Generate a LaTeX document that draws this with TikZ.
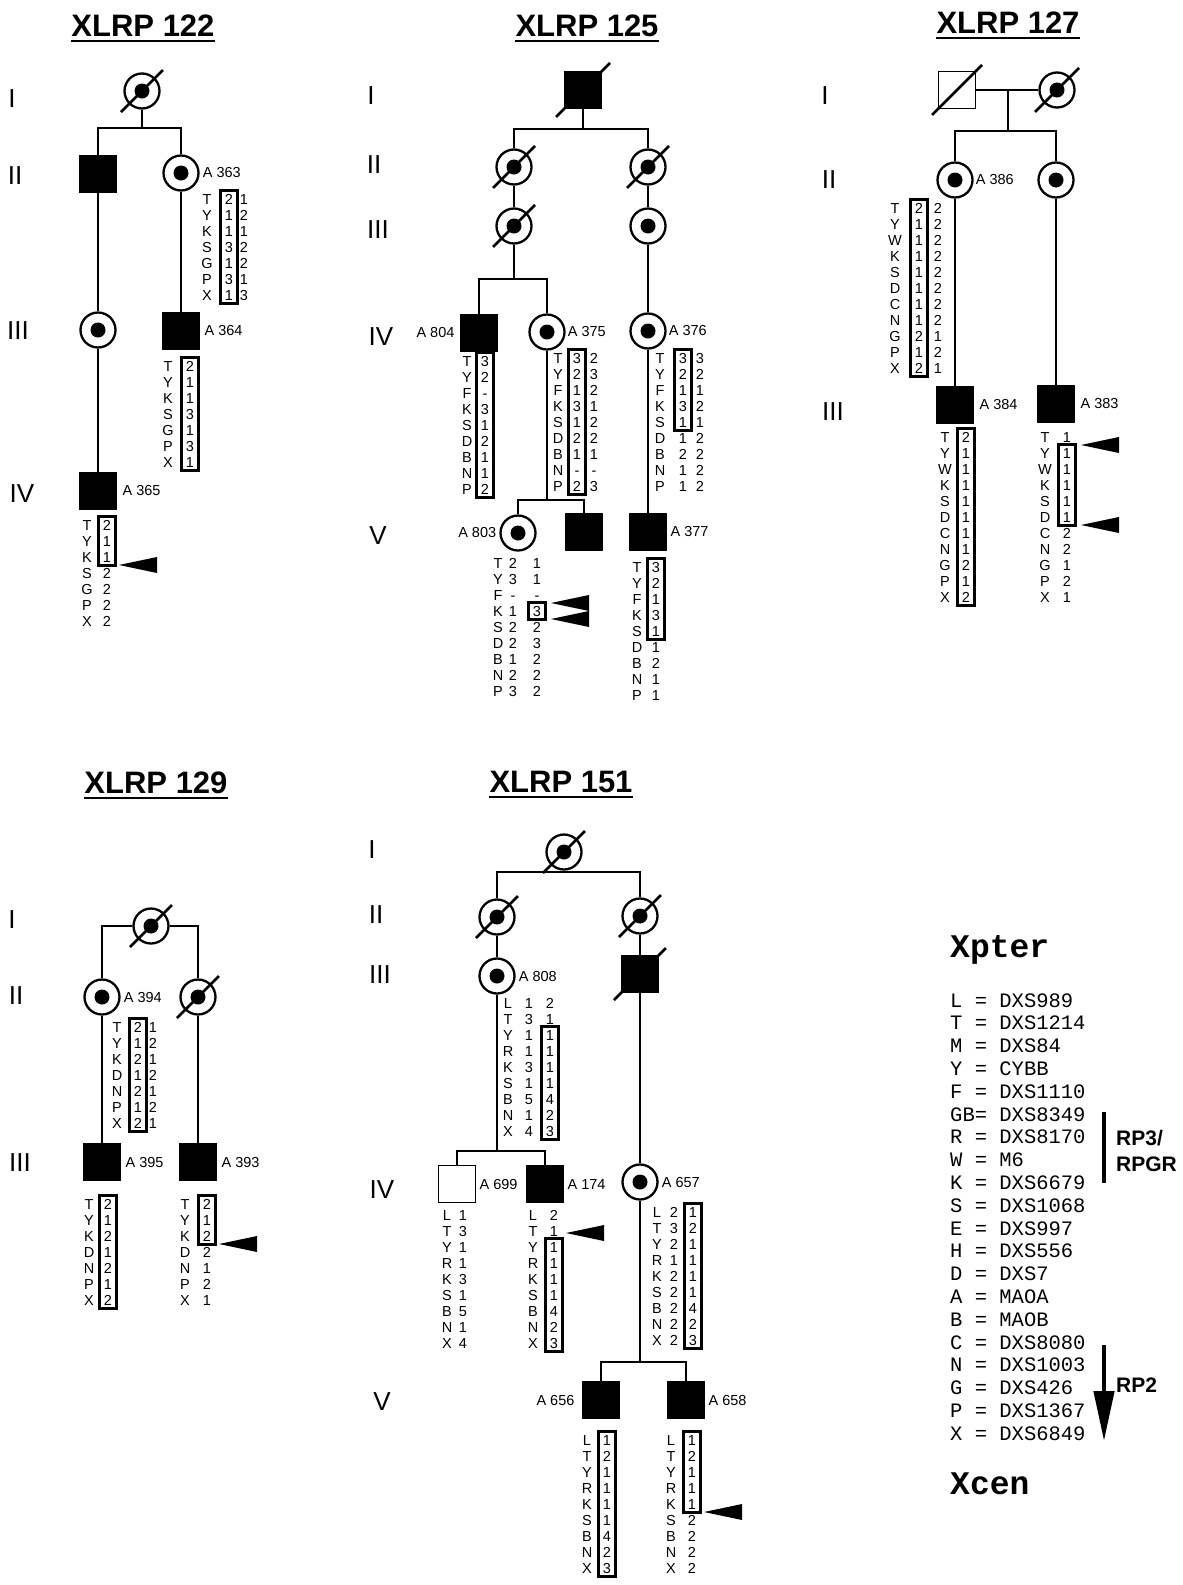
\documentclass[tikz,border=0pt]{standalone}
\usepackage{fontspec}
\setmainfont{Liberation Sans}
\newfontfamily\keymono{Liberation Mono}
\usetikzlibrary{arrows.meta}
\newcommand{\titlefont}{\fontsize{31}{36}\selectfont\bfseries}
\newcommand{\genfont}{\fontsize{26}{30}\selectfont}
\newcommand{\idfont}{\fontsize{14.5}{16}\selectfont}
\newcommand{\hapfont}{\fontsize{14.5}{16}\selectfont}
\newcommand{\keyfont}{\keymono\fontsize{20.5}{23}\selectfont}
\newcommand{\termfont}{\keymono\fontsize{33}{36}\selectfont\bfseries}
\newcommand{\genefont}{\fontsize{21}{24}\selectfont\bfseries}
\tikzset{
  male/.style={draw,rectangle,minimum size=37pt,inner sep=0pt,line width=1.8pt},
  affm/.style={male,fill=black},
  female/.style={draw,circle,minimum size=35pt,inner sep=0pt,line width=2.3pt},
  carrier/.style={female,path picture={\fill (path picture bounding box.center) circle (7.5pt);}},
  kin/.style={line width=2pt},
  deathmark/.style={line width=2.6pt},
  hapframe/.style={line width=2.2pt},
  hapitem/.style={inner sep=0pt,text height=10.4pt,text depth=0pt,font=\hapfont},
  idlabel/.style={inner sep=0pt,anchor=west,font=\idfont},
  gen/.style={inner sep=0pt,font=\genfont},
  titletext/.style={inner sep=0pt,anchor=base,font=\titlefont},
  keyline/.style={inner sep=0pt,anchor=base west,font=\keyfont},
  genename/.style={inner sep=0pt,anchor=base west,font=\genefont}
}
\newcommand{\hapcol}[4]{%
  \foreach \v [count=\i from 0] in {#3}
    \node[hapitem] (#4\i) at (#1,#2+\i*16) {\v};%
}
\newcommand{\hapbox}[4]{%
  \draw[hapframe] (#1-8.5,#2+#3*16-8.5) rectangle (#1+8.5,#2+#4*16+8.5);%
}
\newcommand{\breakmark}[2]{\fill (#1,#2) -- ++(38,-8) -- ++(0,16) -- cycle;}
\newcommand{\deadslash}[2]{%
  \draw[deathmark] ([shift={(-#2,#2)}]#1.center) -- ([shift={(#2,-#2)}]#1.center);}
\newcommand{\pedtitle}[4]{%
  \node[titletext] (#1) at (#2,#3) {#4};
  \draw[line width=2.6pt] ([yshift=-5pt]#1.base west) -- ([yshift=-5pt]#1.base east);}

\begin{document}
\begin{tikzpicture}[x=1pt,y=-1pt]
  \useasboundingbox (0,0) rectangle (1183,1585);

  \pedtitle{t122}{143}{36}{XLRP 122}
  \node[gen] (n122a) at (12,99) {I};
  \node[gen] (n122b) at (15,176) {II};
  \node[gen] (n122c) at (18,331) {III};
  \node[gen] (n122d) at (22,494) {IV};
  \node[carrier] (f1) at (142,91) {};
  \deadslash{f1}{21}
  \coordinate (s1) at (142,128);
  \node[affm] (f2) at (98,174) {};
  \node[carrier] (f3) at (181,173) {};
  \node[idlabel] (l363) at ([xshift=3pt]f3.east) {A 363};
  \node[carrier] (f4) at (98,330) {};
  \node[affm] (f5) at (181,331) {};
  \node[idlabel] (l364) at ([xshift=4pt]f5.east) {A 364};
  \node[affm] (f6) at (98,491) {};
  \node[idlabel] (l365) at ([xshift=5pt]f6.east) {A 365};
  \draw[kin] (f1) -- (s1);
  \draw[kin] (f2.north) |- (s1) -| (f3.north);
  \draw[kin] (f2) -- (f4);
  \draw[kin] (f4) -- (f6);
  \draw[kin] (f3) -- (f5);
  \hapcol{207}{199}{T,Y,K,S,G,P,X}{a}
  \hapcol{229}{199}{2,1,1,3,1,3,1}{b}
  \hapbox{229}{199}{0}{6}
  \hapcol{244}{199}{1,2,1,2,2,1,3}{c}
  \hapcol{168}{366}{T,Y,K,S,G,P,X}{d}
  \hapcol{190}{366}{2,1,1,3,1,3,1}{e}
  \hapbox{190}{366}{0}{6}
  \hapcol{87}{525}{T,Y,K,S,G,P,X}{f}
  \hapcol{107}{525}{2,1,1,2,2,2,2}{g}
  \hapbox{107}{525}{0}{2}
  \breakmark{119}{565}

  \pedtitle{t125}{587}{36}{XLRP 125}
  \node[gen] (n125a) at (371,96) {I};
  \node[gen] (n125b) at (374,165) {II};
  \node[gen] (n125c) at (378,230) {III};
  \node[gen] (n125d) at (381,337) {IV};
  \node[gen] (n125e) at (378,536) {V};
  \node[affm] (g1) at (583,90) {};
  \deadslash{g1}{27}
  \coordinate (s2) at (583,129);
  \node[carrier] (g2) at (514,167) {};
  \deadslash{g2}{21}
  \node[carrier] (g3) at (648,167) {};
  \deadslash{g3}{21}
  \node[carrier] (g4) at (514,226) {};
  \deadslash{g4}{21}
  \node[carrier] (g5) at (648,226) {};
  \draw[kin] (g1) -- (s2);
  \draw[kin] (g2.north) |- (s2) -| (g3.north);
  \draw[kin] (g2) -- (g4);
  \draw[kin] (g3) -- (g5);
  \coordinate (s3) at (514,279);
  \node[affm] (g6) at (479,333) {};
  \node[idlabel,anchor=east] (l804) at ([xshift=-5pt]g6.west) {A 804};
  \node[carrier] (g7) at (547,332) {};
  \node[idlabel] (l375) at ([xshift=2pt]g7.east) {A 375};
  \node[carrier] (g8) at (648,331) {};
  \node[idlabel] (l376) at ([xshift=2pt]g8.east) {A 376};
  \draw[kin] (g4) -- (s3);
  \draw[kin] (g6.north) |- (s3) -| (g7.north);
  \draw[kin] (g5) -- (g8);
  \coordinate (s4) at (547,500);
  \node[carrier] (g9) at (518,533) {};
  \node[idlabel,anchor=east] (l803) at ([xshift=-3pt]g9.west) {A 803};
  \node[affm] (g10) at (584,532) {};
  \node[affm] (g11) at (648,532) {};
  \node[idlabel] (l377) at ([xshift=3pt]g11.east) {A 377};
  \draw[kin] (g7) -- (s4);
  \draw[kin] (g9.north) |- (s4) -| (g10.north);
  \draw[kin] (g8) -- (g11);
  \hapcol{467}{361}{T,Y,F,K,S,D,B,N,P}{h}
  \hapcol{485}{361}{3,2,-,3,1,2,1,1,2}{i}
  \hapbox{485}{361}{0}{8}
  \hapcol{558}{358}{T,Y,F,K,S,D,B,N,P}{j}
  \hapcol{577}{358}{3,2,1,3,1,2,1,-,2}{k}
  \hapbox{577}{358}{0}{8}
  \hapcol{594}{358}{2,3,2,1,2,2,1,-,3}{m}
  \hapcol{660}{358}{T,Y,F,K,S,D,B,N,P}{o}
  \hapcol{683}{358}{3,2,1,3,1,1,2,1,1}{p}
  \hapbox{683}{358}{0}{4}
  \hapcol{700}{358}{3,2,1,2,1,2,2,2,2}{q}
  \hapcol{498}{563}{T,Y,F,K,S,D,B,N,P}{r}
  \hapcol{513}{563}{2,3,-,1,2,2,1,2,3}{s}
  \hapcol{537}{563}{1,1,-,3,2,3,2,2,2}{u}
  \hapbox{537}{563}{3}{3}
  \breakmark{551}{603}
  \breakmark{551}{619}
  \hapcol{637}{567}{T,Y,F,K,S,D,B,N,P}{w}
  \hapcol{656}{567}{3,2,1,3,1,1,2,1,1}{z}
  \hapbox{656}{567}{0}{4}

  \pedtitle{t127}{1008}{33}{XLRP 127}
  \node[gen] (n127a) at (825,96) {I};
  \node[gen] (n127b) at (829,180) {II};
  \node[gen] (n127c) at (833,412) {III};
  \node[male] (h1) at (957,90) {};
  \deadslash{h1}{25}
  \node[carrier] (h2) at (1057,90) {};
  \deadslash{h2}{22}
  \draw[kin] (h1) -- (h2);
  \coordinate (m1) at (1008,90);
  \coordinate (s5) at (1008,131);
  \draw[kin] (m1) -- (s5);
  \node[carrier] (h3) at (955,180) {};
  \node[idlabel] (l386) at ([xshift=2pt]h3.east) {A 386};
  \node[carrier] (h4) at (1056,180) {};
  \draw[kin] (h3.north) |- (s5) -| (h4.north);
  \node[affm] (h5) at (955,405) {};
  \node[idlabel] (l384) at ([xshift=5pt]h5.east) {A 384};
  \node[affm] (h6) at (1056,404) {};
  \node[idlabel] (l383) at ([xshift=5pt]h6.east) {A 383};
  \draw[kin] (h3) -- (h5);
  \draw[kin] (h4) -- (h6);
  \hapcol{895}{208}{T,Y,W,K,S,D,C,N,G,P,X}{aa}
  \hapcol{919}{208}{2,1,1,1,1,1,1,1,2,1,2}{ab}
  \hapbox{919}{208}{0}{10}
  \hapcol{938}{208}{2,2,2,2,2,2,2,2,1,2,1}{ac}
  \hapcol{945}{437}{T,Y,W,K,S,D,C,N,G,P,X}{ad}
  \hapcol{966}{437}{2,1,1,1,1,1,1,1,2,1,2}{ae}
  \hapbox{966}{437}{0}{10}
  \hapcol{1045}{437}{T,Y,W,K,S,D,C,N,G,P,X}{af}
  \hapcol{1067}{437}{1,1,1,1,1,1,2,2,1,2,1}{ag}
  \hapbox{1067}{437}{1}{5}
  \breakmark{1081}{445}
  \breakmark{1081}{525}

  \pedtitle{t129}{156}{793}{XLRP 129}
  \node[gen] (n129a) at (12,920) {I};
  \node[gen] (n129b) at (16,996) {II};
  \node[gen] (n129c) at (20,1163) {III};
  \node[carrier] (k1) at (151,926) {};
  \deadslash{k1}{21}
  \node[carrier] (k2) at (102,997) {};
  \node[idlabel] (l394) at ([xshift=3pt]k2.east) {A 394};
  \node[carrier] (k3) at (198,997) {};
  \deadslash{k3}{21}
  \draw[kin] (k2.north) |- (k1.west);
  \draw[kin] (k1.east) -| (k3.north);
  \node[affm] (k4) at (102,1162) {};
  \node[idlabel] (l395) at ([xshift=4pt]k4.east) {A 395};
  \node[affm] (k5) at (198,1162) {};
  \node[idlabel] (l393) at ([xshift=4pt]k5.east) {A 393};
  \draw[kin] (k2) -- (k4);
  \draw[kin] (k3) -- (k5);
  \hapcol{117}{1027}{T,Y,K,D,N,P,X}{ba}
  \hapcol{138}{1027}{2,1,2,1,2,1,2}{bb}
  \hapbox{138}{1027}{0}{6}
  \hapcol{153}{1027}{1,2,1,2,1,2,1}{bc}
  \hapcol{89}{1204}{T,Y,K,D,N,P,X}{bd}
  \hapcol{108}{1204}{2,1,2,1,2,1,2}{be}
  \hapbox{108}{1204}{0}{6}
  \hapcol{185}{1204}{T,Y,K,D,N,P,X}{bf}
  \hapcol{207}{1204}{2,1,2,2,1,2,1}{bg}
  \hapbox{207}{1204}{0}{2}
  \breakmark{219}{1244}

  \pedtitle{t151}{561}{792}{XLRP 151}
  \node[gen] (n151a) at (372,850) {I};
  \node[gen] (n151b) at (376,915) {II};
  \node[gen] (n151c) at (380,975) {III};
  \node[gen] (n151d) at (382,1190) {IV};
  \node[gen] (n151e) at (382,1402) {V};
  \node[carrier] (q1) at (564,852) {};
  \deadslash{q1}{21}
  \coordinate (s6) at (564,872);
  \node[carrier] (q2) at (497,917) {};
  \deadslash{q2}{21}
  \node[carrier] (q3) at (640,916) {};
  \deadslash{q3}{21}
  \draw[kin] (q1) -- (s6);
  \draw[kin] (q2.north) |- (s6) -| (q3.north);
  \node[carrier] (q4) at (497,976) {};
  \node[idlabel] (l808) at ([xshift=3pt]q4.east) {A 808};
  \node[affm] (q5) at (640,974) {};
  \deadslash{q5}{26}
  \draw[kin] (q2) -- (q4);
  \draw[kin] (q3) -- (q5);
  \coordinate (s7) at (497,1151);
  \node[male] (q6) at (457,1184) {};
  \node[idlabel] (l699) at ([xshift=3pt]q6.east) {A 699};
  \node[affm] (q7) at (545,1184) {};
  \node[idlabel] (l174) at ([xshift=3pt]q7.east) {A 174};
  \draw[kin] (q4) -- (s7);
  \draw[kin] (q6.north) |- (s7) -| (q7.north);
  \node[carrier] (q8) at (640,1182) {};
  \node[idlabel] (l657) at ([xshift=3pt]q8.east) {A 657};
  \draw[kin] (q5) -- (q8);
  \coordinate (s8) at (640,1362);
  \node[affm] (q9) at (601,1400) {};
  \node[idlabel,anchor=east] (l656) at ([xshift=-7pt]q9.west) {A 656};
  \node[affm] (q10) at (686,1400) {};
  \node[idlabel] (l658) at ([xshift=3pt]q10.east) {A 658};
  \draw[kin] (q8) -- (s8);
  \draw[kin] (q9.north) |- (s8) -| (q10.north);
  \hapcol{508}{1003}{L,T,Y,R,K,S,B,N,X}{ca}
  \hapcol{529}{1003}{1,3,1,1,3,1,5,1,4}{cb}
  \hapcol{550}{1003}{2,1,1,1,1,1,4,2,3}{cc}
  \hapbox{550}{1003}{2}{8}
  \hapcol{447}{1215}{L,T,Y,R,K,S,B,N,X}{cd}
  \hapcol{463}{1215}{1,3,1,1,3,1,5,1,4}{ce}
  \hapcol{533}{1215}{L,T,Y,R,K,S,B,N,X}{cf}
  \hapcol{554}{1215}{2,1,1,1,1,1,4,2,3}{cg}
  \hapbox{554}{1215}{2}{8}
  \breakmark{566}{1233}
  \hapcol{657}{1212}{L,T,Y,R,K,S,B,N,X}{ch}
  \hapcol{674}{1212}{2,3,2,1,2,2,2,2,2}{ci}
  \hapcol{693}{1212}{1,2,1,1,1,1,4,2,3}{cj}
  \hapbox{693}{1212}{0}{8}
  \hapcol{587}{1440}{L,T,Y,R,K,S,B,N,X}{ck}
  \hapcol{607}{1440}{1,2,1,1,1,1,4,2,3}{cm}
  \hapbox{607}{1440}{0}{8}
  \hapcol{671}{1440}{L,T,Y,R,K,S,B,N,X}{co}
  \hapcol{692}{1440}{1,2,1,1,1,2,2,2,2}{cp}
  \hapbox{692}{1440}{0}{4}
  \breakmark{704}{1512}

  \node[inner sep=0pt,anchor=base west,font=\termfont] (xpter) at (950,957) {Xpter};
  \foreach \entry [count=\i from 0] in {L = DXS989,T = DXS1214,M = DXS84,Y = CYBB,
      F = DXS1110,GB= DXS8349,R = DXS8170,W = M6,K = DXS6679,S = DXS1068,
      E = DXS997,H = DXS556,D = DXS7,A = MAOA,B = MAOB,C = DXS8080,
      N = DXS1003,G = DXS426,P = DXS1367,X = DXS6849}
    \node[keyline] (key\i) at (950,1007+\i*22.8) {\entry};
  \node[inner sep=0pt,anchor=base west,font=\termfont] (xcen) at (950,1494) {Xcen};
  \draw[line width=4.5pt] (1104,1112) -- (1104,1183);
  \node[genename] (rp3) at (1116,1145) {RP3/};
  \node[genename] (rpgr) at (1116,1171) {RPGR};
  \draw[line width=4.5pt,-{Triangle[width=20pt,length=50pt]}] (1104,1345) -- (1104,1441);
  \node[genename] (rp2) at (1116,1392) {RP2};
\end{tikzpicture}
\end{document}
